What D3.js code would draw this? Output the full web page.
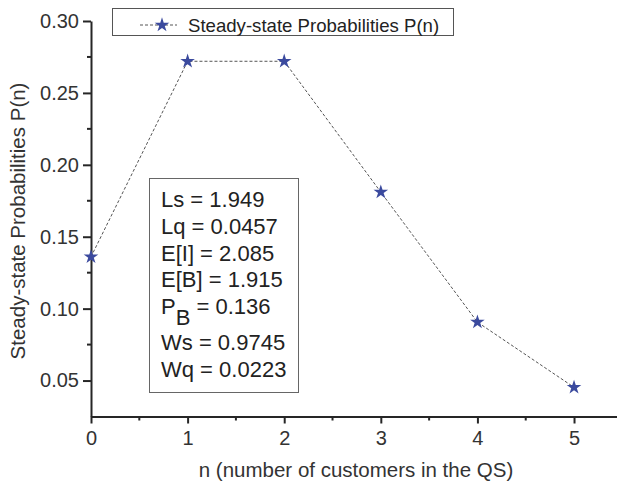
<!DOCTYPE html>
<html>
<head>
<meta charset="utf-8">
<script src="https://cdn.jsdelivr.net/npm/d3@7"></script>
<style>
  body { margin: 0; background: #fff; }
  svg { display: block; font-family: "Liberation Sans", Arial, sans-serif; }
</style>
</head>
<body>
<div id="chart"></div>
<script>
// data
const nValues = [0, 1, 2, 3, 4, 5];
const probValues = [0.136, 0.272, 0.272, 0.181, 0.0906, 0.0453];
const yTickValues = [0.05, 0.10, 0.15, 0.20, 0.25, 0.30];
const yMinorTicks = [0.075, 0.125, 0.175, 0.225, 0.275];
const xTickValues = [0, 1, 2, 3, 4, 5];
const xMinorTicks = [0.5, 1.5, 2.5, 3.5, 4.5];
const statsLines = [
  ["Ls = 1.949"],
  ["Lq = 0.0457"],
  ["E[I] = 2.085"],
  ["E[B] = 1.915"],
  ["P", "B", " = 0.136"],
  ["Ws = 0.9745"],
  ["Wq = 0.0223"]
];
const legendLabel = "Steady-state Probabilities P(n)";

const W = 617, H = 485;
const starColor = "#3b4a9e";
const inkColor = "#262626";

const svg = d3.select("#chart").append("svg")
  .attr("width", W).attr("height", H);

const x = d3.scaleLinear().domain([0, 5.45]).range([91, 617.5]);
const y = d3.scaleLinear().domain([0.025, 0.30]).range([416.5, 21]);

// line between points
const line = d3.line().x(d => x(d[0])).y(d => y(d[1]));
const pts = nValues.map((n, i) => [n, probValues[i]]);

svg.append("path")
  .datum(pts)
  .attr("d", line)
  .attr("fill", "none")
  .attr("stroke", "#555")
  .attr("stroke-width", 1)
  .attr("stroke-dasharray", "3,2");

// axes
const yAxis = d3.axisLeft(y)
  .tickValues(yTickValues)
  .tickFormat(d3.format(".2f"))
  .tickSize(8)
  .tickSizeOuter(0)
  .tickPadding(4);

const yg = svg.append("g")
  .attr("transform", "translate(" + x(0) + ",0)")
  .call(yAxis);

yg.selectAll(".minor")
  .data(yMinorTicks)
  .enter().append("line")
  .attr("class", "minor")
  .attr("x1", -4).attr("x2", 0)
  .attr("y1", d => y(d)).attr("y2", d => y(d));

const xAxis = d3.axisBottom(x)
  .tickValues(xTickValues)
  .tickFormat(d3.format("d"))
  .tickSize(7)
  .tickSizeOuter(0)
  .tickPadding(7);

const xg = svg.append("g")
  .attr("transform", "translate(0," + y(0.025) + ")")
  .call(xAxis);

xg.selectAll(".minor")
  .data(xMinorTicks)
  .enter().append("line")
  .attr("class", "minor")
  .attr("x1", d => x(d)).attr("x2", d => x(d))
  .attr("y1", 0).attr("y2", 4);

[yg, xg].forEach(g => {
  g.select(".domain").attr("stroke", inkColor).attr("stroke-width", 2);
  g.selectAll("line").attr("stroke", inkColor).attr("stroke-width", 2);
  g.selectAll("text")
    .attr("fill", "#333")
    .style("font-size", "20px")
    .style("font-family", "'Liberation Sans', Arial, sans-serif");
});

// stars
const star = d3.symbol().type(d3.symbolStar).size(66);
svg.selectAll(".pt")
  .data(pts)
  .enter().append("path")
  .attr("class", "pt")
  .attr("d", star)
  .attr("transform", d => "translate(" + x(d[0]) + "," + y(d[1]) + ")")
  .attr("fill", starColor);

// axis titles
svg.append("text")
  .attr("x", 356)
  .attr("y", 477)
  .attr("text-anchor", "middle")
  .attr("fill", "#333")
  .style("font-size", "20.5px")
  .text("n (number of customers in the QS)");

svg.append("text")
  .attr("transform", "translate(25,221) rotate(-90)")
  .attr("text-anchor", "middle")
  .attr("fill", "#333")
  .style("font-size", "20.5px")
  .text("Steady-state Probabilities P(n)");

// legend
const leg = svg.append("g");
leg.append("rect")
  .attr("x", 112.5).attr("y", 8.5)
  .attr("width", 341).attr("height", 27)
  .attr("fill", "#fff")
  .attr("stroke", "#555")
  .attr("stroke-width", 1);
leg.append("line")
  .attr("x1", 140).attr("x2", 177)
  .attr("y1", 25).attr("y2", 25)
  .attr("stroke", "#555")
  .attr("stroke-dasharray", "3,2");
leg.append("path")
  .attr("d", star)
  .attr("transform", "translate(162,25)")
  .attr("fill", starColor);
leg.append("text")
  .attr("x", 188).attr("y", 31.5)
  .attr("fill", "#222")
  .style("font-size", "18.6px")
  .text(legendLabel);

// stats box
const box = svg.append("g");
box.append("rect")
  .attr("x", 149.5).attr("y", 178.5)
  .attr("width", 149).attr("height", 214)
  .attr("fill", "#fff")
  .attr("stroke", "#666")
  .attr("stroke-width", 1);

statsLines.forEach((parts, i) => {
  const by = 207 + i * 26.8 + (i > 4 ? 9 : 0);
  const t = box.append("text")
    .attr("x", 161)
    .attr("y", by)
    .attr("fill", "#222")
    .style("font-size", "22px");
  if (parts.length === 1) {
    t.text(parts[0]);
  } else {
    t.append("tspan").text(parts[0]);
    t.append("tspan").attr("dy", 11).text(parts[1]);
    t.append("tspan").attr("dy", -11).text(parts[2]);
  }
});
</script>
</body>
</html>
